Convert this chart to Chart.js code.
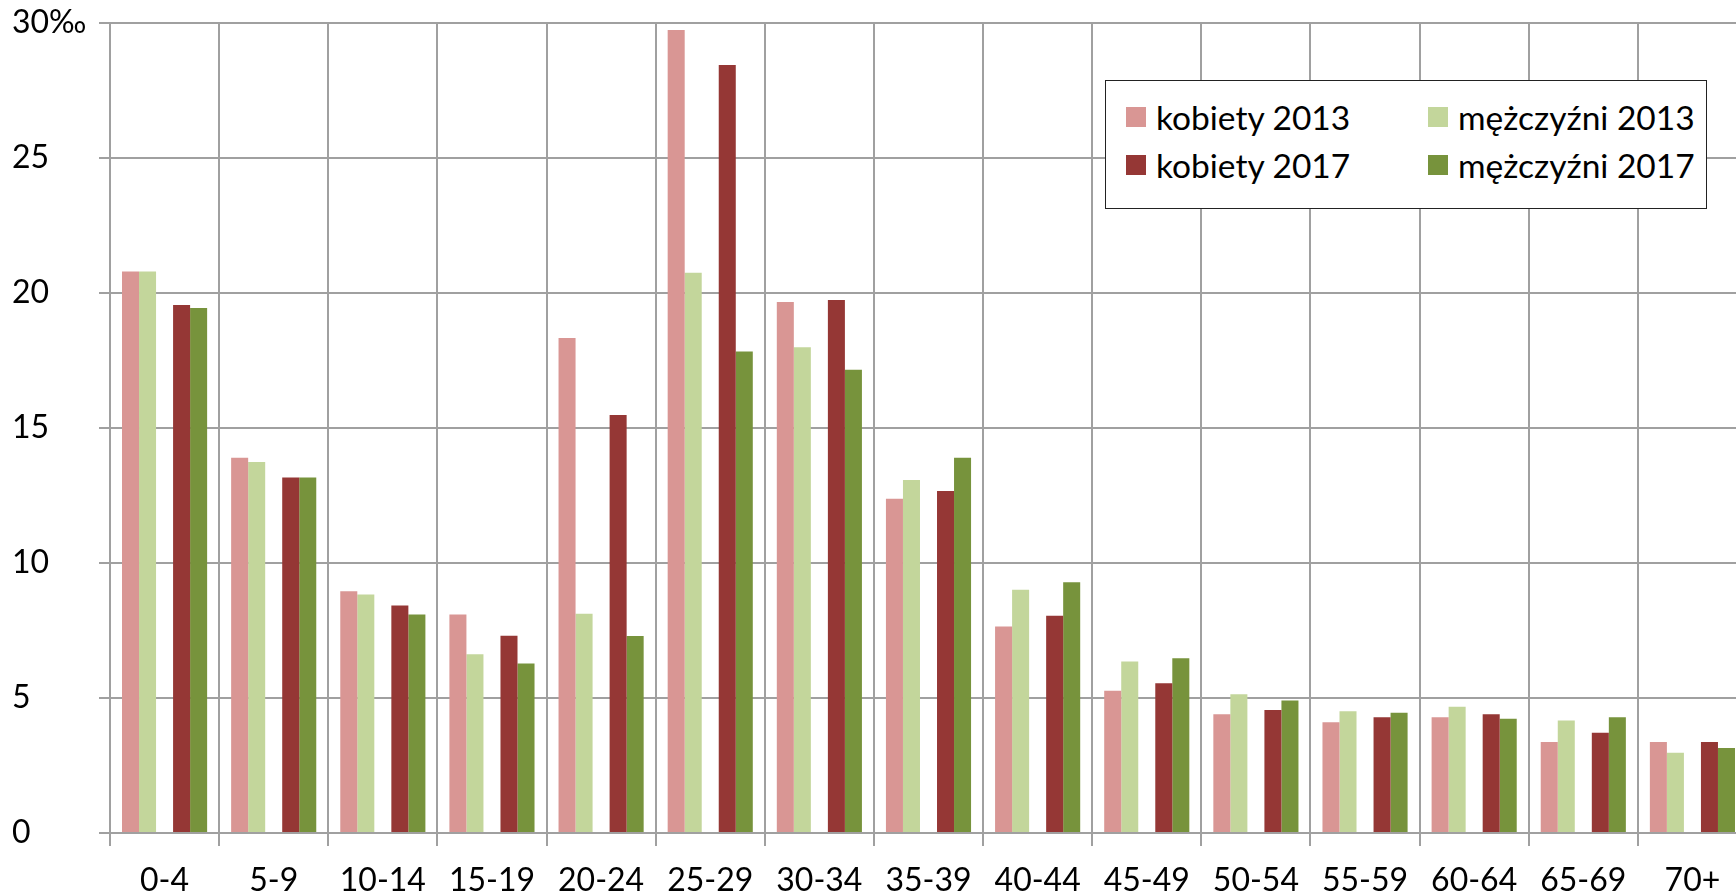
<!DOCTYPE html>
<html lang="pl">
<head>
  <meta charset="UTF-8" />
  <title>Współczynniki migracji według wieku</title>
  <script src="https://cdn.jsdelivr.net/npm/chart.js"></script>
  <style>
    html, body {
      margin: 0;
      padding: 0;
      background: #ffffff;
      overflow: hidden;
    }

    .wrap {
      position: relative;
      width: 1760px;
      height: 895px;
    }

    #legend {
      position: absolute;
      left: 1105px;
      top: 80px;
      width: 602px;
      height: 129px;
      border: 1.5px solid #222;
      background: #fff;
      font-family: Lato, sans-serif;
      font-size: 33.5px;
      color: #000;
      box-sizing: border-box;
    }

    #legend .item {
      position: absolute;
      display: flex;
      align-items: center;
      white-space: nowrap;
    }

    #legend .box {
      width: 20px;
      height: 20px;
      margin-right: 10px;
    }
  </style>
</head>
<body>
  <div class="wrap">
    <canvas id="chart" width="1760" height="895"></canvas>
    <div id="legend"></div>
  </div>

  <script>
    // dane
    const ageGroups = ['0-4', '5-9', '10-14', '15-19', '20-24', '25-29', '30-34', '35-39',
                       '40-44', '45-49', '50-54', '55-59', '60-64', '65-69', '70+'];
    const kobiety2013 = [20.8, 13.9, 8.95, 8.09, 18.33, 29.74, 19.67, 12.38, 7.65, 5.27, 4.40, 4.10, 4.29, 3.37, 3.37];
    const mezczyzni2013 = [20.8, 13.74, 8.83, 6.62, 8.12, 20.75, 17.99, 13.07, 9.01, 6.35, 5.14, 4.51, 4.68, 4.17, 2.97];
    const kobiety2017 = [19.56, 13.17, 8.43, 7.31, 15.48, 28.44, 19.74, 12.67, 8.05, 5.55, 4.56, 4.29, 4.40, 3.71, 3.37];
    const mezczyzni2017 = [19.44, 13.17, 8.09, 6.28, 7.30, 17.83, 17.16, 13.90, 9.29, 6.47, 4.91, 4.45, 4.23, 4.29, 3.15];
    const yTickLabels = { 0: '0', 5: '5', 10: '10', 15: '15', 20: '20', 25: '25', 30: '30‰' };

    const FONT = 'Lato, sans-serif';
    const GRID = '#a0a0a0';

    const series = [
      { label: 'kobiety 2013', data: kobiety2013, color: '#d99694' },
      { label: 'mężczyźni 2013', data: mezczyzni2013, color: '#c3d69b' },
      { label: '', data: ageGroups.map(() => null), color: 'rgba(0,0,0,0)' }, // przerwa
      { label: 'kobiety 2017', data: kobiety2017, color: '#953735' },
      { label: 'mężczyźni 2017', data: mezczyzni2017, color: '#77933c' }
    ];

    const ctx = document.getElementById('chart').getContext('2d');

    new Chart(ctx, {
      type: 'bar',
      data: {
        labels: ageGroups,
        datasets: series.map(s => ({
          label: s.label,
          data: s.data,
          backgroundColor: s.color,
          borderWidth: 0,
          categoryPercentage: 0.78,
          barPercentage: 1.0
        }))
      },
      options: {
        responsive: false,
        animation: false,
        layout: { padding: { left: 12, top: 23, right: 13, bottom: 0 } },
        plugins: {
          legend: { display: false },
          tooltip: { enabled: false }
        },
        scales: {
          x: {
            grid: {
              offset: true,
              color: GRID,
              lineWidth: 2,
              tickLength: 13
            },
            border: { color: GRID, width: 2 },
            ticks: {
              color: '#000',
              font: { family: FONT, size: 32 },
              padding: 15,
              maxRotation: 0,
              autoSkip: false
            },
            afterFit: scale => { scale.height = 62; }
          },
          y: {
            min: 0,
            max: 30,
            grid: { color: GRID, lineWidth: 2, tickLength: 11 },
            border: { color: GRID, width: 2 },
            ticks: {
              stepSize: 5,
              color: '#000',
              crossAlign: 'far',
              font: { family: FONT, size: 32 },
              callback: v => yTickLabels[v] ?? v
            },
            afterFit: scale => { scale.width = 98; }
          }
        }
      }
    });

    // legenda
    const legend = document.getElementById('legend');
    const legendPos = [
      { i: 0, left: 20, top: 16 },
      { i: 1, left: 322, top: 16 },
      { i: 3, left: 20, top: 64 },
      { i: 4, left: 322, top: 64 }
    ];
    legendPos.forEach(p => {
      const el = document.createElement('div');
      el.className = 'item';
      el.style.left = p.left + 'px';
      el.style.top = p.top + 'px';
      el.innerHTML = '<span class="box" style="background:' + series[p.i].color + '"></span>' + series[p.i].label;
      legend.appendChild(el);
    });
  </script>
</body>
</html>
